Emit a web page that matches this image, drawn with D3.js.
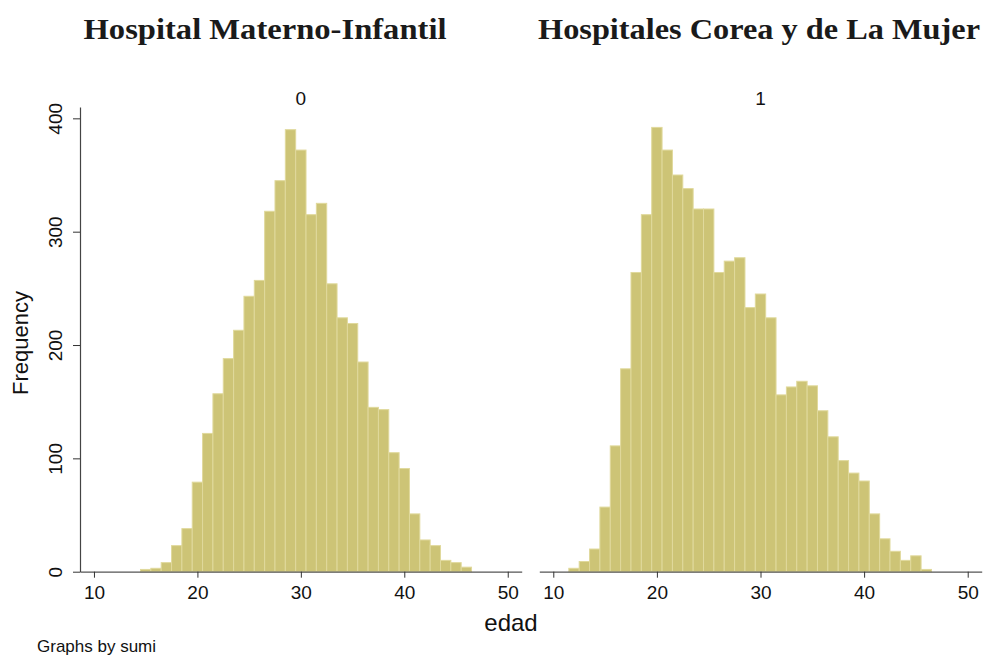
<!DOCTYPE html>
<html>
<head>
<meta charset="utf-8">
<script src="https://cdn.jsdelivr.net/npm/d3@7"></script>
<style>
  html, body { margin: 0; padding: 0; background: #fff; }
  svg { display: block; }
</style>
</head>
<body>
<svg id="chart" width="992" height="659"></svg>
<script>
// ---- data ----
const panelTitles = ["Hospital Materno-Infantil", "Hospitales Corea y de La Mujer"];
const panelLabels = ["0", "1"];
// bins are 1 year wide, centred on integer ages
const ages0 = [15,16,17,18,19,20,21,22,23,24,25,26,27,28,29,30,31,32,33,34,35,36,37,38,39,40,41,42,43,44,45,46];
const freq0 = [2,3,8,23,38,79,122,157,188,213,243,257,318,345,390,372,315,325,254,224,219,185,145,143,105,91,51,28,23,10,8,4];
const ages1 = [12,13,14,15,16,17,18,19,20,21,22,23,24,25,26,27,28,29,30,31,32,33,34,35,36,37,38,39,40,41,42,43,44,45,46];
const freq1 = [3,9,20,57,111,179,264,315,392,372,350,338,320,320,264,274,277,233,245,224,156,163,168,164,142,119,98,87,80,51,29,18,10,14,2];
const xTicks = [10, 20, 30, 40, 50];
const yTicks = [0, 100, 200, 300, 400];
const xTitle = "edad";
const yTitle = "Frequency";
const note = "Graphs by sumi";

const panels = [
  { title: panelTitles[0], label: panelLabels[0], ages: ages0, freq: freq0 },
  { title: panelTitles[1], label: panelLabels[1], ages: ages1, freq: freq1 }
];

// ---- layout ----
const svg = d3.select("#chart");
const sans = "'Liberation Sans', Arial, sans-serif";
const serif = "'Liberation Serif', 'Times New Roman', serif";
const plotRanges = [[80, 521.7], [539.3, 981.7]];
const titleCenters = [265, 759];
const titleWidths = [363, 442];
const y = d3.scaleLinear().domain([0, 410]).range([571.7, 107]);
const barFill = "#cdc476";
const barStroke = "#e0d99c";

panels.forEach((p, i) => {
  const x = d3.scaleLinear().domain([8.65, 51.35]).range(plotRanges[i]);
  const g = svg.append("g");

  // bars
  g.selectAll("rect.bar")
    .data(p.ages.map((a, j) => ({ a, f: p.freq[j] })))
    .join("rect")
    .attr("class", "bar")
    .attr("x", d => x(d.a - 0.5))
    .attr("width", d => x(d.a + 0.5) - x(d.a - 0.5))
    .attr("y", d => y(d.f))
    .attr("height", d => y(0) - y(d.f))
    .attr("fill", barFill)
    .attr("stroke", barStroke)
    .attr("stroke-width", 1);

  // x axis
  const xa = g.append("g")
    .attr("transform", `translate(0,${y(0)})`)
    .call(d3.axisBottom(x).tickValues(xTicks).tickSize(6).tickPadding(8).tickSizeOuter(0));
  xa.select(".domain").attr("stroke", "#555").attr("stroke-width", 1.2);
  xa.selectAll(".tick line").attr("stroke", "#333");
  xa.selectAll(".tick text").attr("font-family", sans).attr("font-size", 19).attr("fill", "#111");

  // title & panel label
  svg.append("text")
    .attr("x", titleCenters[i]).attr("y", 39)
    .attr("text-anchor", "middle")
    .attr("font-family", serif).attr("font-weight", "bold").attr("font-size", 30)
    .attr("textLength", titleWidths[i]).attr("lengthAdjust", "spacingAndGlyphs")
    .attr("fill", "#1a1a1a")
    .text(p.title);
  svg.append("text")
    .attr("x", (plotRanges[i][0] + plotRanges[i][1]) / 2).attr("y", 105)
    .attr("text-anchor", "middle")
    .attr("font-family", sans).attr("font-size", 19).attr("fill", "#111")
    .text(p.label);
});

// y axis on the left panel
const ya = svg.append("g")
  .attr("transform", `translate(80,0)`)
  .call(d3.axisLeft(y).tickValues(yTicks).tickSize(7).tickPadding(0).tickSizeOuter(0));
ya.select(".domain").attr("stroke", "#444").attr("stroke-width", 1.2);
ya.selectAll(".tick line").attr("stroke", "#333");
ya.selectAll(".tick text")
  .attr("font-family", sans).attr("font-size", 19).attr("fill", "#111")
  .attr("text-anchor", "middle")
  .attr("transform", "translate(-25,0) rotate(-90)")
  .attr("x", 0).attr("dy", "0.35em");

// axis titles & note
svg.append("text")
  .attr("transform", `translate(28,${(y(0) + y(400)) / 2 - 2}) rotate(-90)`)
  .attr("text-anchor", "middle")
  .attr("font-family", sans).attr("font-size", 22).attr("fill", "#111")
  .text(yTitle);
svg.append("text")
  .attr("x", 511).attr("y", 631)
  .attr("text-anchor", "middle")
  .attr("font-family", sans).attr("font-size", 24).attr("fill", "#111")
  .text(xTitle);
svg.append("text")
  .attr("x", 37).attr("y", 652)
  .attr("font-family", sans).attr("font-size", 17).attr("fill", "#111")
  .text(note);
</script>
</body>
</html>
